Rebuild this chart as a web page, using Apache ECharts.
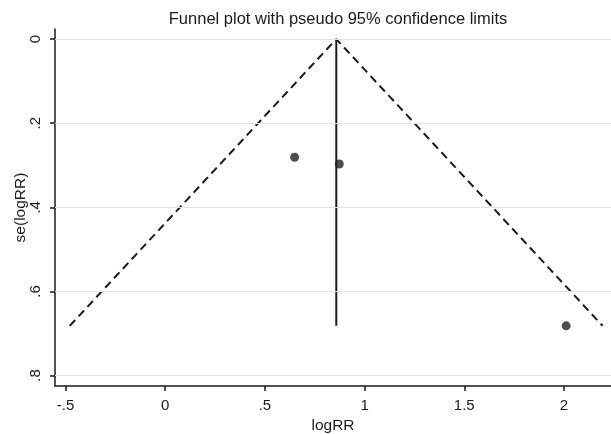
<!DOCTYPE html>
<html>
<head>
<meta charset="utf-8">
<script src="https://cdn.jsdelivr.net/npm/echarts@6/dist/echarts.min.js"></script>
<style>
  html, body { margin: 0; padding: 0; background: #fff; }
  #main { width: 611px; height: 434px; }
</style>
</head>
<body>
<div id="main"></div>
<script>
// studies (logRR, se)
var studyLogRR = [0.649, 0.873, 2.011];
var studySe = [0.281, 0.297, 0.682];
// pseudo 95% limits
var funnelLogRR = [-0.479, 0.858, 2.194];
var funnelSe = [0.682, 0, 0.682];
// pooled estimate line
var pooledLogRR = [0.858, 0.858];
var pooledSe = [0, 0.682];
// ticks
var xTicks = [-0.5, 0, 0.5, 1, 1.5, 2];
var xTickLabels = ['-.5', '0', '.5', '1', '1.5', '2'];
var yTicks = [0, 0.2, 0.4, 0.6, 0.8];
var yTickLabels = ['0', '.2', '.4', '.6', '.8'];

function zip(a, b) {
  return a.map(function (v, i) { return [v, b[i]]; });
}
function tickText(ticks, labels) {
  return function (v) {
    for (var i = 0; i < ticks.length; i++) {
      if (Math.abs(ticks[i] - v) < 1e-6) return labels[i];
    }
    return '';
  };
}

var font = '"Liberation Sans", Arial, sans-serif';
var ink = '#1a1a1a';

var myChart = echarts.init(document.getElementById('main'), null, { renderer: 'canvas' });
var option = {
  animation: false,
  backgroundColor: '#fff',
  title: {
    text: 'Funnel plot with pseudo 95% confidence limits',
    left: 333,
    textAlign: 'center',
    top: 6,
    textStyle: { fontFamily: font, fontSize: 16.5, fontWeight: 'normal', color: ink }
  },
  grid: { left: 55, right: 0, top: 29, bottom: 48, containLabel: false, outerBoundsMode: 'none' },
  xAxis: {
    type: 'value',
    min: -0.553,
    max: 2.236,
    name: 'logRR',
    nameLocation: 'middle',
    nameGap: 32,
    nameMoveOverlap: false,
    nameTextStyle: { fontFamily: font, fontSize: 15.5, color: ink },
    axisLine: { show: true, onZero: false, lineStyle: { color: ink, width: 1.5 } },
    axisTick: { show: true, length: 5, customValues: xTicks, lineStyle: { color: ink, width: 1.5 } },
    axisLabel: {
      customValues: xTicks,
      formatter: tickText(xTicks, xTickLabels),
      margin: 12,
      fontFamily: font, fontSize: 15, color: ink
    },
    splitLine: { show: false }
  },
  yAxis: {
    type: 'value',
    inverse: true,
    min: -0.024,
    max: 0.825,
    name: 'se(logRR)',
    nameLocation: 'middle',
    nameGap: 26,
    nameRotate: 90,
    nameMoveOverlap: false,
    nameTextStyle: { fontFamily: font, fontSize: 15.5, color: ink },
    axisLine: { show: true, onZero: false, lineStyle: { color: ink, width: 1.5 } },
    axisTick: { show: true, length: 5, customValues: yTicks, lineStyle: { color: ink, width: 1.5 } },
    axisLabel: {
      customValues: yTicks,
      formatter: tickText(yTicks, yTickLabels),
      rotate: 90,
      margin: 12,
      fontFamily: font, fontSize: 15, color: ink
    },
    splitLine: { show: false }
  },
  series: [
    {
      name: 'grid',
      type: 'line',
      data: [],
      markLine: {
        silent: true,
        symbol: 'none',
        label: { show: false },
        lineStyle: { color: '#e3e3e3', width: 1, type: 'solid' },
        data: yTicks.map(function (v) { return { yAxis: v }; })
      }
    },
    {
      name: 'limits',
      type: 'line',
      data: zip(funnelLogRR, funnelSe),
      showSymbol: false,
      lineStyle: { color: ink, width: 2, type: [8, 5] },
      z: 3
    },
    {
      name: 'pooled',
      type: 'line',
      data: zip(pooledLogRR, pooledSe),
      showSymbol: false,
      lineStyle: { color: ink, width: 2, type: 'solid' },
      z: 3
    },
    {
      name: 'studies',
      type: 'scatter',
      data: zip(studyLogRR, studySe),
      symbolSize: 9,
      itemStyle: { color: '#222' },
      z: 4
    }
  ]
};
myChart.setOption(option);
window.addEventListener('resize', myChart.resize);
</script>
</body>
</html>
